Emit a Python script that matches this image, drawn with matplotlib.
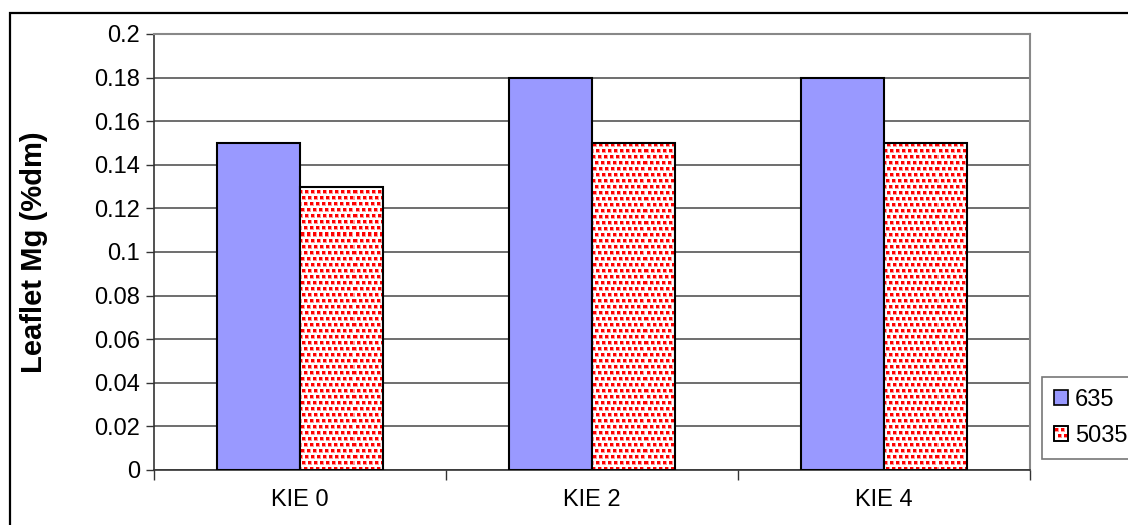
import matplotlib
matplotlib.use("Agg")
import matplotlib.pyplot as plt
import numpy as np
from matplotlib.patches import Rectangle, Patch

categories = ["KIE 0", "KIE 2", "KIE 4"]
series_names = ["635", "5035"]
values_635 = [0.15, 0.18, 0.18]
values_5035 = [0.13, 0.15, 0.15]
yticks = [0, 0.02, 0.04, 0.06, 0.08, 0.1, 0.12, 0.14, 0.16, 0.18, 0.2]
ytick_labels = ["0", "0.02", "0.04", "0.06", "0.08", "0.1", "0.12", "0.14", "0.16", "0.18", "0.2"]

plt.rcParams['font.family'] = ['Liberation Sans', 'DejaVu Sans']

W, H = 1128, 525
fig = plt.figure(figsize=(W / 100, H / 100), dpi=100)


def dot_texture(h, w):
    """Red dotted fill texture (pattern fill of the second series)."""
    img = np.ones((h, w, 3))
    for r, yy in enumerate(range(1, h, 6)):
        off = (0, 3, 1, 4)[r % 4]
        for xx in range(off, w, 6):
            img[yy:yy + 4, xx:xx + 4] = [1.0, 0.6, 0.6]
            img[yy:yy + 3, xx:xx + 3] = [1.0, 0.0, 0.0]
    return img


# outer chart border
fig.add_artist(Rectangle((10 / W, -0.1), 1.2, (H - 13) / H + 0.1, transform=fig.transFigure,
                         fill=False, edgecolor='black', linewidth=1.6))

ax_l, ax_r, ax_t, ax_b = 154, 1030, 34, 470
ax = fig.add_axes([ax_l / W, (H - ax_b) / H, (ax_r - ax_l) / W, (ax_b - ax_t) / H])

x = np.arange(len(categories)) + 0.5
bw = 0.285
blue = '#9999FF'

ax.bar(x - bw / 2, values_635, width=bw, color=blue, edgecolor='black', linewidth=1.5, zorder=3)
red_bars = ax.bar(x + bw / 2, values_5035, width=bw, color='white', linewidth=0, zorder=3)
ax.bar(x + bw / 2, values_5035, width=bw, fill=False, edgecolor='black', linewidth=1.5, zorder=4)

ax.set_xlim(0, 3)
ax.set_ylim(0, 0.2)

tex = dot_texture(ax_b - ax_t, ax_r - ax_l)
for p in red_bars.patches:
    im = ax.imshow(tex, extent=[0, 3, 0, 0.2], aspect='auto', interpolation='nearest',
                   origin='upper', zorder=3.5)
    im.set_clip_path(p)
ax.set_xlim(0, 3)
ax.set_ylim(0, 0.2)

ax.set_yticks(yticks)
ax.set_yticklabels(ytick_labels, fontsize=17)
ax.set_xticks(x)
ax.set_xticklabels(categories, fontsize=17)
ax.set_xticks([0, 1, 2, 3], minor=True)
ax.tick_params(axis='x', which='major', length=0, pad=14)
ax.tick_params(axis='x', which='minor', length=7, width=1, color='#333333')
ax.tick_params(axis='y', length=6, width=1, color='#333333', pad=4)

ax.yaxis.grid(True, color='#555555', linewidth=1.2, zorder=0)
ax.set_axisbelow(True)
for s in ['top', 'right']:
    ax.spines[s].set_color('#888888')
    ax.spines[s].set_linewidth(1.5)
for s in ['left', 'bottom']:
    ax.spines[s].set_color('#333333')
    ax.spines[s].set_linewidth(1.2)

ax.set_ylabel("Leaflet Mg (%dm)", fontsize=21, fontweight='bold')
ax.yaxis.set_label_coords((48 - ax_l) / (ax_r - ax_l), 0.5)

handles = [Patch(facecolor=blue, edgecolor='black', linewidth=1.2),
           Patch(facecolor='white', edgecolor='black', linewidth=1.2)]
leg = fig.legend(handles, series_names, loc='upper left',
                 bbox_to_anchor=(1042 / W, (H - 377) / H), fontsize=17,
                 frameon=True, fancybox=False, edgecolor='#555555',
                 handlelength=0.6, handleheight=0.6, handletextpad=0.3,
                 borderpad=0.5, labelspacing=0.6, borderaxespad=0)
leg.get_frame().set_linewidth(1.2)

# dotted fill for the second legend key
fig.canvas.draw()
bb = leg.legend_handles[1].get_window_extent()
kw, kh = int(round(bb.width)) - 2, int(round(bb.height)) - 2
key = dot_texture(kh, kw)
fig.figimage(key, xo=int(round(bb.x0)) + 1, yo=int(round(bb.y0)) + 1, zorder=11)
fig.add_artist(Rectangle((bb.x0 / W, bb.y0 / H), bb.width / W, bb.height / H,
                         transform=fig.transFigure, fill=False, edgecolor='black',
                         linewidth=1.2, zorder=12))

fig.savefig("out.png", dpi=100)
